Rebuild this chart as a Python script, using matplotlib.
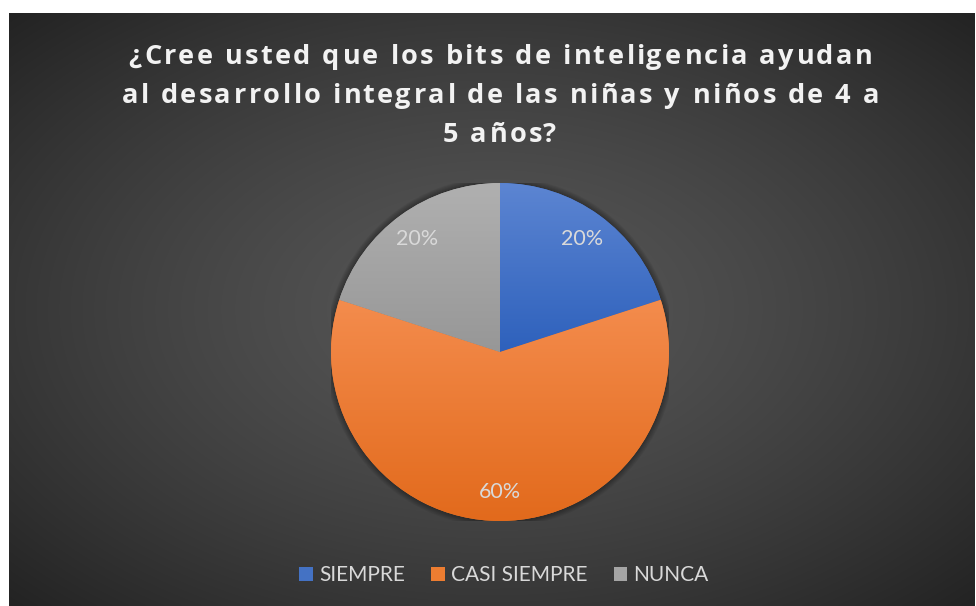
import numpy as np
import matplotlib
matplotlib.use("Agg")
import matplotlib.pyplot as plt
from matplotlib.patches import Patch, Circle
from matplotlib.font_manager import FontProperties, findfont, get_font
from matplotlib.ft2font import LoadFlags

# ---- data ----
categories = ["SIEMPRE", "CASI SIEMPRE", "NUNCA"]
values = [20, 60, 20]
title_lines = ["¿Cree usted que los bits de inteligencia ayudan",
               "al desarrollo integral de las niñas y niños de 4 a",
               "5 años?"]

# ---- style ----
W, H, DPI = 976, 606, 100
base_cols = ["#4472c4", "#ed7d31", "#a5a5a5"]
grad_top = ["#5c85d2", "#f48c4d", "#b0b0b0"]
grad_bot = ["#2e61bc", "#e26a1c", "#979797"]
FONT = "Lato"
TFONT = "Open Sans"

fig = plt.figure(figsize=(W / DPI, H / DPI), dpi=DPI, facecolor="white")

# background panel with radial gradient
bx0, by0, bx1, by1 = 9, 13, 975, 606
bg = fig.add_axes([bx0 / W, 1 - by1 / H, (bx1 - bx0) / W, (by1 - by0) / H])
bg.set_axis_off()
nx, ny = 400, 250
xx, yy = np.meshgrid(np.linspace(-1, 1, nx), np.linspace(-1, 1, ny))
d = np.clip(np.sqrt(xx ** 2 + yy ** 2) / np.sqrt(2), 0, 1) ** 1.4
c_center, c_edge = 0x56 / 255, 0x23 / 255
val = c_center - (c_center - c_edge) * d
img = np.dstack([val, val, val])
bg.imshow(img, extent=(0, 1, 0, 1), aspect="auto", interpolation="bilinear")
bg.set_xlim(0, 1)
bg.set_ylim(0, 1)

# pie
cx, cy, r = 500, 352, 169
ax = fig.add_axes([(cx - r) / W, 1 - (cy + r) / H, 2 * r / W, 2 * r / H])
ax.set_axis_off()

# soft shadow
for k in range(6):
    ax.add_patch(Circle((0, 0), 1.0 + 0.006 * (k + 1), facecolor="black",
                        alpha=0.06, edgecolor="none", zorder=0))

wedges, _ = ax.pie(values, colors=base_cols, startangle=90, counterclock=False,
                   radius=1.0, wedgeprops=dict(linewidth=0))
for w, ct, cb in zip(wedges, grad_top, grad_bot):
    ext = w.get_path().get_extents()
    t = np.array(matplotlib.colors.to_rgb(ct))
    b = np.array(matplotlib.colors.to_rgb(cb))
    s = np.linspace(0, 1, 200)[:, None, None]
    grad = t * (1 - s) + b * s
    im = ax.imshow(grad, extent=(ext.x0, ext.x1, ext.y0, ext.y1), origin="upper",
                   aspect="auto", interpolation="bilinear", zorder=2)
    im.set_clip_path(w)

# labels
total = sum(values)
ang = 90.0
for v in values:
    sweep = 360.0 * v / total
    mid = np.deg2rad(ang - sweep / 2)
    dist = 0.83
    ax.text(dist * np.cos(mid), dist * np.sin(mid), f"{v / total * 100:.0f}%",
            ha="center", va="center", color="#d9d9d9", fontsize=15.5,
            family=FONT, zorder=5)
    ang -= sweep

ax.set_xlim(-1, 1)
ax.set_ylim(-1, 1)
ax.set_aspect("equal")

# title with letter spacing
tsize = 19.5
fp = FontProperties(family=TFONT, weight="bold")
font = get_font(findfont(fp))
font.set_size(tsize, DPI)


def advances(line):
    out = []
    for ch in line:
        g = font.load_char(ord(ch), flags=LoadFlags.NO_HINTING)
        out.append((g.linearHoriAdvance / 65536.0, g.horiBearingX / 64.0))
    return out


adv1 = advances(title_lines[0])
nat1 = sum(a for a, _ in adv1)
tracking = (744 - nat1) / (len(title_lines[0]) - 1)
baselines = [64, 103, 142]
tcx = 499
for line, base in zip(title_lines, baselines):
    adv = advances(line)
    total_w = sum(a for a, _ in adv) + tracking * (len(line) - 1)
    pen = tcx - total_w / 2
    for ch, (a, lsb) in zip(line, adv):
        if ch != " ":
            fig.text((pen + lsb) / W, 1 - base / H, ch, ha="left", va="baseline",
                     fontsize=tsize, fontweight="bold", family=TFONT, color="#f2f2f2")
        pen += a + tracking

# legend
handles = [Patch(facecolor=c, edgecolor="none") for c in base_cols]
leg = fig.legend(handles, categories, loc="center", bbox_to_anchor=(504 / W, 1 - 575 / H),
                 ncol=3, frameon=False, handlelength=0.65, handleheight=0.65,
                 handletextpad=0.3, columnspacing=1.25, prop=dict(family=FONT, size=15))
for t in leg.get_texts():
    t.set_color("#d9d9d9")

fig.savefig("out.png", dpi=DPI, facecolor="white")
